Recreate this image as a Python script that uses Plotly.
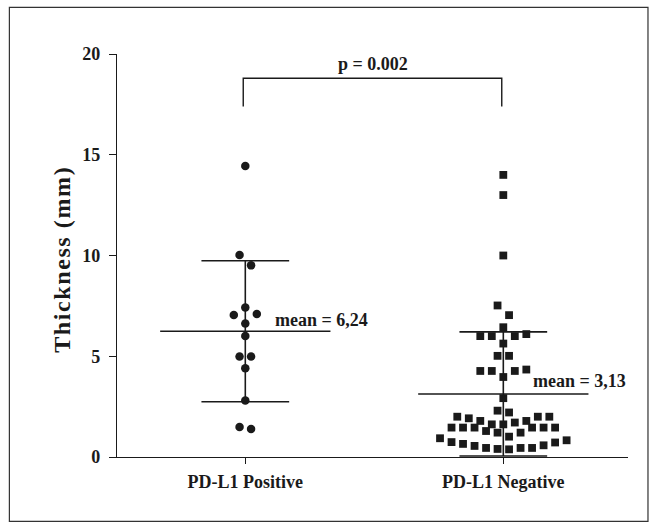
import plotly.graph_objects as go

# ---------------- data ----------------
categories = ["PD-L1 Positive", "PD-L1 Negative"]
category_x = [1, 2]

positive_values = [14.44, 10.02, 9.51, 7.42, 7.10, 7.05, 6.62, 6.00,
                   4.99, 4.99, 4.41, 2.80, 1.49, 1.39]
negative_values = [14.0, 13.0, 10.0, 7.52, 7.04, 6.44, 6.10, 6.00, 6.00, 6.00,
                   5.63, 5.02, 5.02, 4.34, 4.27, 4.27, 4.27, 3.97, 2.92,
                   2.30, 2.21, 2.00, 2.00, 2.00, 1.92, 1.79, 1.79, 1.71,
                   1.62, 1.62, 1.46, 1.46, 1.46, 1.46, 1.46, 1.46, 1.29,
                   1.21, 1.21, 1.01, 0.93, 0.83, 0.74, 0.72, 0.65, 0.58,
                   0.55, 0.45, 0.45, 0.45, 0.40, 0.38]
group_means = [6.24, 3.13]
group_sds = [3.50, 3.08]
mean_labels = ["mean = 6,24", "mean = 3,13"]
p_label = "p = 0.002"
y_title = "Thickness (mm)"
y_ticks = [0, 5, 10, 15, 20]

# ---------------- styling constants ----------------
FONT = "Liberation Serif"
INK = "#1a1a1a"
SLOT = 0.0446          # horizontal spacing between dots (x data units)
BIN = 0.56             # values closer than this share a row
MEAN_HALF = 0.33
SD_HALF = 0.17


def scatter_offsets(values):
    """Prism-like dot arrangement: group close values in rows, centre each row."""
    order = sorted(range(len(values)), key=lambda i: values[i])
    offsets = [0.0] * len(values)
    bins, cur = [], []
    for i in order:
        if cur and values[i] - values[cur[0]] > BIN:
            bins.append(cur)
            cur = []
        cur.append(i)
    if cur:
        bins.append(cur)
    for b in bins:
        n = len(b)
        slots = [k - (n - 1) / 2 for k in range(n)]
        if n % 2:
            slots.sort(key=lambda s: (abs(s), s))
        else:
            slots.sort(key=lambda s: (abs(s), -s))
        for idx, s in zip(b, slots):
            offsets[idx] = s * SLOT
    return offsets


fig = go.Figure()

groups = [positive_values, negative_values]
symbols = ["circle", "square"]
sizes = [8.5, 7.8]
for cx, vals, sym, sz in zip(category_x, groups, symbols, sizes):
    offs = scatter_offsets(vals)
    fig.add_trace(go.Scatter(
        x=[cx + o for o in offs], y=vals, mode="markers",
        marker=dict(symbol=sym, size=sz, color=INK, line=dict(width=0)),
        cliponaxis=False, showlegend=False, hoverinfo="y"))

# mean and SD bars
for cx, m, sd in zip(category_x, group_means, group_sds):
    xs = [cx - MEAN_HALF, cx + MEAN_HALF, None,
          cx - SD_HALF, cx + SD_HALF, None,
          cx - SD_HALF, cx + SD_HALF, None,
          cx, cx]
    ys = [m, m, None, m + sd, m + sd, None, m - sd, m - sd, None, m - sd, m + sd]
    fig.add_trace(go.Scatter(x=xs, y=ys, mode="lines",
                             line=dict(color=INK, width=1.6),
                             cliponaxis=False, showlegend=False, hoverinfo="skip"))

# significance bracket
br_top, br_bot = 18.8, 17.4
fig.add_trace(go.Scatter(
    x=[category_x[0] - 0.008, category_x[0] - 0.008, category_x[1] - 0.006, category_x[1] - 0.006],
    y=[br_bot, br_top, br_top, br_bot], mode="lines",
    line=dict(color=INK, width=1.4), cliponaxis=False,
    showlegend=False, hoverinfo="skip"))

annotations = [
    dict(x=sum(category_x) / 2 - 0.007, y=br_top, xref="x", yref="y", text=p_label,
         showarrow=False, xanchor="center", yanchor="bottom", yshift=2,
         font=dict(family=FONT, size=18, color=INK, weight=700)),
    dict(x=category_x[0] + 0.108, y=group_means[0], xref="x", yref="y",
         text=mean_labels[0], showarrow=False, xanchor="left", yanchor="bottom",
         yshift=-1, font=dict(family=FONT, size=18, color=INK, weight=700)),
    dict(x=category_x[1] + 0.106, y=group_means[1], xref="x", yref="y",
         text=mean_labels[1], showarrow=False, xanchor="left", yanchor="bottom",
         yshift=1, font=dict(family=FONT, size=18, color=INK, weight=700)),
    dict(x=-0.109, y=0.49, xref="paper", yref="paper",
         text='<span style="letter-spacing:1.6px">' + y_title + '</span>',
         textangle=-90, showarrow=False, xanchor="center", yanchor="middle",
         font=dict(family=FONT, size=24, color=INK, weight=700)),
]

fig.update_layout(
    width=656, height=529,
    margin=dict(l=117, r=28, t=54, b=72, pad=0),
    paper_bgcolor="white", plot_bgcolor="white",
    font=dict(family=FONT, size=18, color=INK, weight=700),
    annotations=annotations,
    shapes=[dict(type="rect", xref="paper", yref="paper",
                 x0=-0.2106, x1=1.0391, y0=-0.1597, y1=1.1155,
                 line=dict(color="#333333", width=1.2), fillcolor="rgba(0,0,0,0)",
                 layer="below")],
    xaxis=dict(range=[0.5027, 2.4833], tickmode="array", tickvals=category_x,
               ticktext=categories, showgrid=False, zeroline=False,
               showline=True, linecolor=INK, linewidth=1.4,
               ticks="outside", ticklen=6, tickwidth=1.2, tickcolor=INK,
               ticklabelstandoff=2,
               tickfont=dict(family=FONT, size=18, color=INK, weight=700)),
    yaxis=dict(range=[0, 20], tickmode="array", tickvals=y_ticks,
               showgrid=False, zeroline=False, showline=True, linecolor=INK,
               linewidth=1.4, ticks="outside", ticklen=7, tickwidth=1.2,
               tickcolor=INK, ticklabelstandoff=5,
               tickfont=dict(family=FONT, size=18, color=INK, weight=700)),
)

fig.write_html("out.html", config={"displayModeBar": False},
               post_script="document.body.style.margin='0px';document.body.style.padding='0px';")
